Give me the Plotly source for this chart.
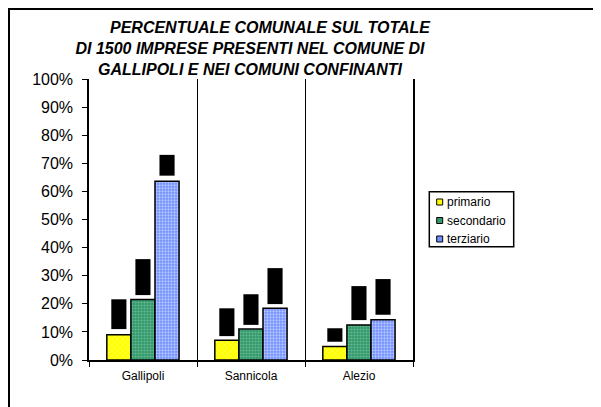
import plotly.graph_objects as go

comuni = ["Gallipoli", "Sannicola", "Alezio"]
settori = ["primario", "secondario", "terziario"]

# share of firms per sector in each comune
primario = [0.090, 0.070, 0.048]
secondario = [0.215, 0.110, 0.125]
terziario = [0.636, 0.184, 0.143]

# the blacked-out data labels above each bar (bottom, top)
label_bottom = {
    "primario": [0.110, 0.085, 0.065],
    "secondario": [0.231, 0.125, 0.142],
    "terziario": [0.656, 0.199, 0.161],
}
label_top = {
    "primario": [0.216, 0.184, 0.113],
    "secondario": [0.359, 0.234, 0.263],
    "terziario": [0.730, 0.327, 0.288],
}

values = {"primario": primario, "secondario": secondario, "terziario": terziario}
colors = {"primario": "#FFFF00", "secondario": "#33996B", "terziario": "#6F8FFF"}
patterns = {
    "primario": dict(shape="x", fgcolor="#FFFFB0", size=4, solidity=0.3),
    "secondario": dict(shape=".", fgcolor="#9AD8B8", size=3, solidity=0.4),
    "terziario": dict(shape=".", fgcolor="#FFFFFF", size=3, solidity=0.45),
}

BAR_W = 0.223
BOX_W = 0.14
FONT = "Arial, Liberation Sans, sans-serif"

# the page has an 8px body margin, so the figure is laid out 8px smaller
W, H = 593, 399
PL, PR, PT, PB = 81, 405, 71, 352
pw, ph = PR - PL, PB - PT


def px(x):
    return (x - PL) / pw


def py(y):
    return (PB - y) / ph


fig = go.Figure()

for i, s in enumerate(settori):
    fig.add_trace(
        go.Bar(
            x=comuni,
            y=values[s],
            name=s,
            width=BAR_W,
            offset=-0.335 + i * BAR_W,
            marker=dict(color=colors[s], pattern=patterns[s], line=dict(color="black", width=1.5)),
            showlegend=False,
        )
    )

for i, s in enumerate(settori):
    center = -0.335 + i * BAR_W + BAR_W / 2
    heights = [t - b for t, b in zip(label_top[s], label_bottom[s])]
    fig.add_trace(
        go.Bar(
            x=comuni,
            y=heights,
            base=label_bottom[s],
            width=BOX_W,
            offset=center - BOX_W / 2,
            marker=dict(color="black", line=dict(width=0)),
            showlegend=False,
            hoverinfo="skip",
        )
    )

# outer frame of the chart window (runs off the right and bottom edges)
fig.add_shape(
    type="rect", xref="paper", yref="paper",
    x0=px(1), x1=px(620), y0=py(420), y1=py(1),
    line=dict(color="black", width=2), fillcolor="rgba(0,0,0,0)",
)

# legend box drawn by hand, Excel style
fig.add_shape(
    type="rect", xref="paper", yref="paper",
    x0=px(421.3), x1=px(505.7), y0=py(238.7), y1=py(183.7),
    line=dict(color="black", width=1.5), fillcolor="white",
)
for i, s in enumerate(settori):
    yc = 194 + i * 18.5
    fig.add_shape(
        type="rect", xref="paper", yref="paper",
        x0=px(428.7), x1=px(434.7), y0=py(yc + 3), y1=py(yc - 3),
        line=dict(color="black", width=1), fillcolor=colors[s],
    )
    fig.add_annotation(
        text=s, xref="paper", yref="paper",
        x=px(437.5), y=py(yc), xanchor="left", yanchor="middle",
        showarrow=False, font=dict(size=12, family=FONT, color="black"),
    )

fig.update_layout(
    width=W,
    height=H,
    barmode="overlay",
    paper_bgcolor="white",
    plot_bgcolor="white",
    font=dict(family=FONT, color="black"),
    margin=dict(l=PL, r=W - PR, t=PT, b=H - PB),
    title=dict(
        text="<b><i>" + "&nbsp;" * 9 + "PERCENTUALE COMUNALE SUL TOTALE<br>"
        "DI 1500 IMPRESE PRESENTI NEL COMUNE DI<br>"
        "GALLIPOLI E NEI COMUNI CONFINANTI</i></b>",
        x=242 / W,
        xanchor="center",
        y=1 - 25 / H,
        yanchor="top",
        font=dict(size=16, family=FONT),
    ),
    showlegend=False,
)

fig.update_xaxes(
    type="category",
    tickson="boundaries",
    ticks="outside",
    ticklen=5,
    tickcolor="black",
    ticklabelstandoff=4,
    showgrid=True,
    gridcolor="black",
    gridwidth=1,
    showline=True,
    linecolor="black",
    linewidth=1.5,
    tickfont=dict(size=12),
    range=[-0.5, 2.5],
)
fig.update_yaxes(
    range=[0, 1],
    dtick=0.1,
    tickformat=".0%",
    ticks="outside",
    ticklen=5,
    tickcolor="black",
    ticklabelstandoff=6,
    showgrid=False,
    zeroline=False,
    showline=True,
    mirror=True,
    linecolor="black",
    linewidth=1.5,
    tickfont=dict(size=16),
)

fig.write_html("out.html")
